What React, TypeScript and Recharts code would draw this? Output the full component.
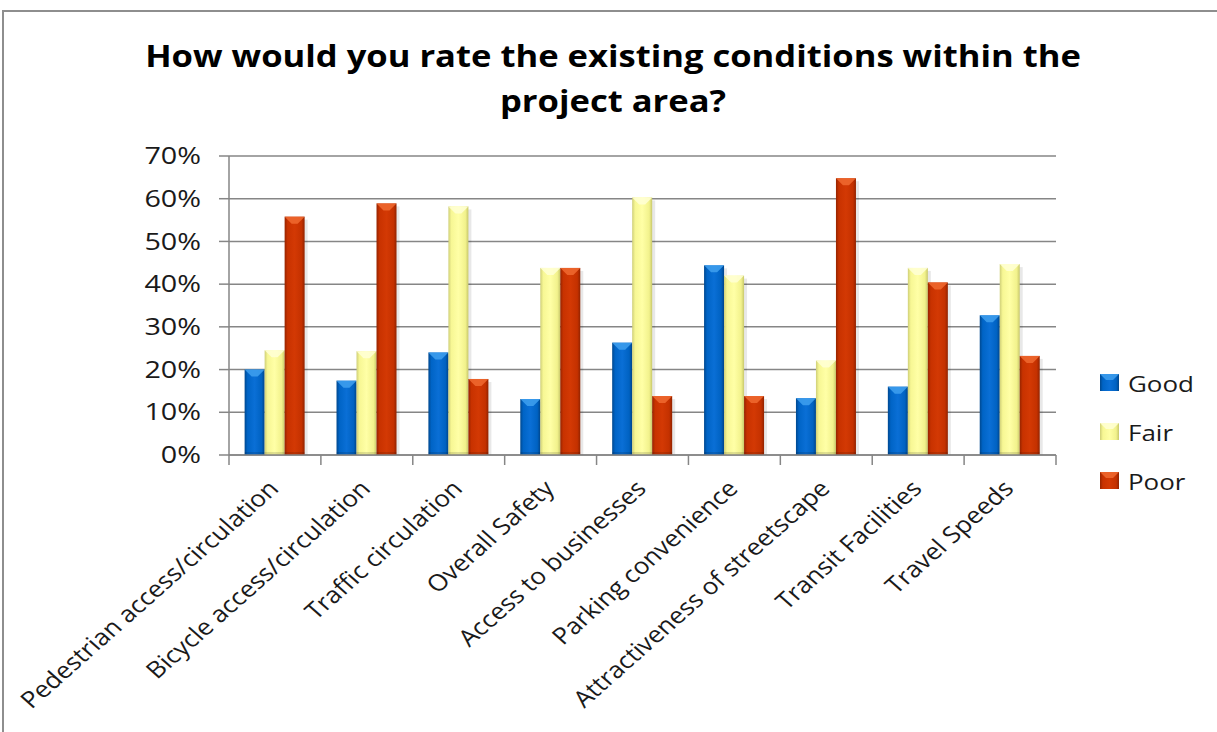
import React from "react";
import {
  BarChart,
  Bar,
  XAxis,
  YAxis,
  CartesianGrid,
  Legend,
} from "recharts";

const categories = [
  "Pedestrian access/circulation",
  "Bicycle access/circulation",
  "Traffic circulation",
  "Overall Safety",
  "Access to businesses",
  "Parking convenience",
  "Attractiveness of streetscape",
  "Transit Facilities",
  "Travel Speeds",
];
const good = [20.0, 17.4, 24.0, 13.1, 26.3, 44.4, 13.3, 16.0, 32.7];
const fair = [24.5, 24.3, 58.2, 43.8, 60.3, 42.0, 22.1, 43.8, 44.7];
const poor = [55.8, 58.9, 17.8, 43.8, 13.8, 13.8, 64.8, 40.4, 23.2];
const yTicks = [0, 10, 20, 30, 40, 50, 60, 70];

const series = [
  { key: "good", name: "Good", grad: "gradGood", light: "#3fa0ee" },
  { key: "fair", name: "Fair", grad: "gradFair", light: "#ffffd6" },
  { key: "poor", name: "Poor", grad: "gradPoor", light: "#f06a30" },
];

const data = categories.map((c, i) => ({
  category: c,
  good: good[i],
  fair: fair[i],
  poor: poor[i],
}));

const FONT = "'Open Sans', 'DejaVu Sans', sans-serif";

const BevelBar = (props: any) => {
  const { x, y, width, height, grad, light } = props;
  if (!height || height <= 0) return null;
  const b = Math.min(7, width / 2.8);
  return (
    <g>
      <rect x={x + 3} y={y + 3} width={width} height={height - 3} fill="#000" opacity={0.09} />
      <rect x={x} y={y} width={width} height={height} fill={`url(#${grad})`} />
      <path
        d={`M${x},${y} L${x + width},${y} L${x + width - b},${y + b} L${x + b},${y + b} Z`}
        fill={light}
        opacity={0.85}
      />
      <rect x={x} y={y + height - 3} width={width} height={3} fill="#000" opacity={0.12} />
    </g>
  );
};

const CategoryTick = (props: any) => {
  const { x, y, payload, index, visibleTicksCount } = props;
  const half = payload?.offset ?? 0;
  const last = index === visibleTicksCount - 1;
  const tx = x + 5;
  const ty = y + 35;
  return (
    <g>
      <line x1={x - half} x2={x - half} y1={y} y2={y + 10} stroke="#868686" strokeWidth={1.5} />
      {last && (
        <line x1={x + half} x2={x + half} y1={y} y2={y + 10} stroke="#868686" strokeWidth={1.5} />
      )}
      <text
        x={0}
        y={0}
        textAnchor="end"
        fontSize={23}
        fill="#1a1a1a"
        transform={`translate(${tx}, ${ty}) scale(1.13, 1) rotate(-45)`}
      >
        {payload.value}
      </text>
    </g>
  );
};

const ValueTick = (props: any) => {
  const { x, y, payload, tickFormatter } = props;
  const label = tickFormatter ? tickFormatter(payload.value) : payload.value;
  return (
    <text
      x={0}
      y={0}
      dy="0.355em"
      textAnchor="end"
      fontSize={23}
      fill="#1a1a1a"
      transform={`translate(${x}, ${y}) scale(1.25, 1)`}
    >
      {label}
    </text>
  );
};

const renderLegend = () => (
  <div style={{ fontFamily: FONT }}>
    {series.map((s) => (
      <div
        key={s.key}
        style={{ display: "flex", alignItems: "center", height: 49 }}
      >
        <svg width={20} height={18}>
          <rect x={0} y={0} width={19} height={17} fill={`url(#${s.grad})`} />
          <path d="M0,0 L19,0 L13,6 L6,6 Z" fill={s.light} opacity={0.85} />
        </svg>
        <span
          style={{
            marginLeft: 8,
            fontSize: 22,
            color: "#1a1a1a",
            display: "inline-block",
            transform: "scaleX(1.18)",
            transformOrigin: "left center",
          }}
        >
          {s.name}
        </span>
      </div>
    ))}
  </div>
);

export default function App() {
  return (
    <div
      style={{
        position: "absolute",
        left: 0,
        top: 0,
        width: 1217,
        height: 732,
        overflow: "hidden",
        background: "#fff",
        fontFamily: FONT,
      }}
    >
      <svg width={0} height={0} style={{ position: "absolute" }}>
        <defs>
          <linearGradient id="gradGood" x1="0" y1="0" x2="1" y2="0">
            <stop offset="0%" stopColor="#00488f" />
            <stop offset="15%" stopColor="#0064c6" />
            <stop offset="50%" stopColor="#0a6fd6" />
            <stop offset="85%" stopColor="#0062c2" />
            <stop offset="100%" stopColor="#00458a" />
          </linearGradient>
          <linearGradient id="gradFair" x1="0" y1="0" x2="1" y2="0">
            <stop offset="0%" stopColor="#cfcf78" />
            <stop offset="15%" stopColor="#f7f794" />
            <stop offset="50%" stopColor="#ffffa6" />
            <stop offset="85%" stopColor="#f2f28c" />
            <stop offset="100%" stopColor="#c8c86c" />
          </linearGradient>
          <linearGradient id="gradPoor" x1="0" y1="0" x2="1" y2="0">
            <stop offset="0%" stopColor="#962400" />
            <stop offset="15%" stopColor="#c83200" />
            <stop offset="50%" stopColor="#d33904" />
            <stop offset="85%" stopColor="#c43100" />
            <stop offset="100%" stopColor="#922300" />
          </linearGradient>
        </defs>
      </svg>
      <div
        style={{
          position: "absolute",
          left: 2,
          top: 10,
          width: 1300,
          height: 800,
          borderTop: "2px solid #8e8e8e",
          borderLeft: "2px solid #8e8e8e",
        }}
      />
      <div
        style={{
          position: "absolute",
          left: 0,
          top: 33,
          width: 1226,
          textAlign: "center",
          fontSize: 31,
          fontWeight: 700,
          lineHeight: "45px",
          color: "#000",
          transform: "scaleX(1.115)",
          transformOrigin: "613px 0",
        }}
      >
        How would you rate the existing conditions within the
        <br />
        project area?
      </div>
      <div style={{ position: "absolute", left: 0, top: 0 }}>
        <BarChart
          width={1217}
          height={732}
          data={data}
          margin={{ top: 156, right: 161, left: 149, bottom: 0 }}
          barCategoryGap="17%"
          barGap={0}
        >
          <CartesianGrid vertical={false} stroke="#868686" strokeWidth={1.5} />
          <XAxis
            dataKey="category"
            interval={0}
            height={277}
            tickLine={false}
            tickSize={0}
            tickMargin={0}
            axisLine={{ stroke: "#868686", strokeWidth: 1.5 }}
            tick={<CategoryTick />}
          />
          <YAxis
            width={80}
            domain={[0, 70]}
            ticks={yTicks}
            interval={0}
            tickSize={10}
            tickMargin={18}
            axisLine={{ stroke: "#868686", strokeWidth: 1.5 }}
            tickLine={{ stroke: "#868686", strokeWidth: 1.5 }}
            tick={<ValueTick />}
            tickFormatter={(v: number) => `${v}%`}
          />
          <Legend
            layout="vertical"
            align="center"
            verticalAlign="middle"
            wrapperStyle={{ left: 1100, top: 358, width: 117 }}
            content={renderLegend}
          />
          {series.map((s) => (
            <Bar
              key={s.key}
              dataKey={s.key}
              name={s.name}
              isAnimationActive={false}
              shape={(p: any) => <BevelBar {...p} grad={s.grad} light={s.light} />}
            />
          ))}
        </BarChart>
      </div>
    </div>
  );
}
